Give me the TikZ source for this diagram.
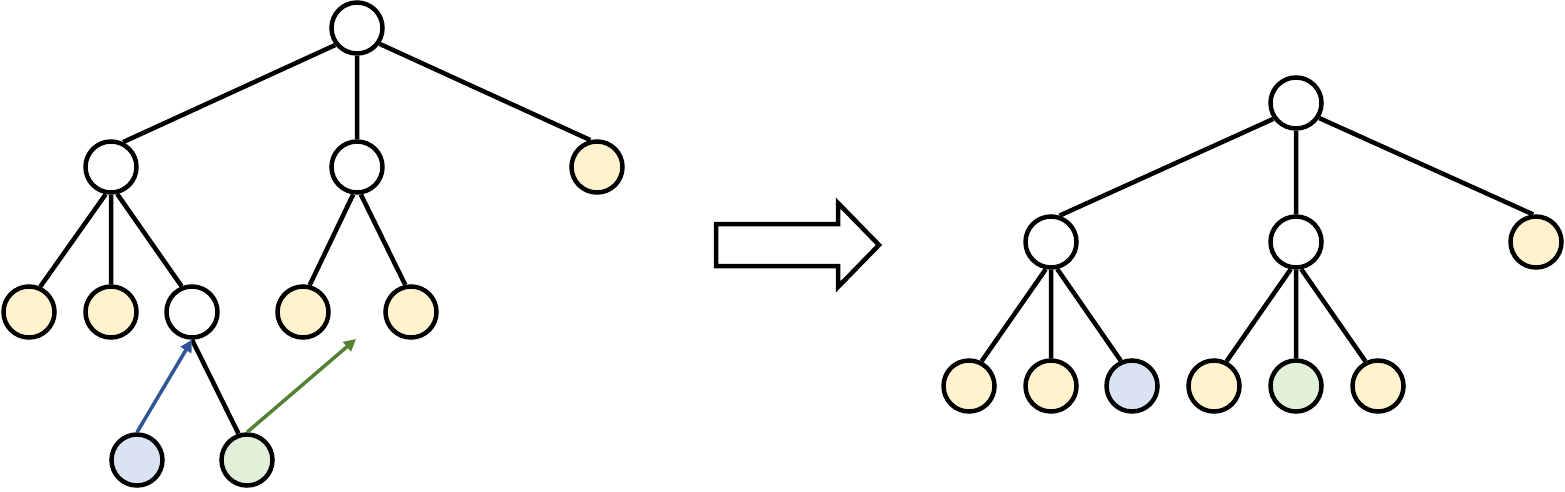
\documentclass[tikz,border=0pt]{standalone}
\usetikzlibrary{arrows.meta}

\definecolor{leafyellow}{HTML}{FFF2CC}
\definecolor{leafblue}{HTML}{DAE3F3}
\definecolor{leafgreen}{HTML}{E2F0D9}
\definecolor{moveblue}{HTML}{2F5597}
\definecolor{movegreen}{HTML}{548235}

\tikzset{
	vertex/.style={circle, draw, line width=4.5pt, fill=white, minimum size=51pt, inner sep=0pt},
	leaf/.style={vertex, fill=leafyellow},
	edge/.style={line width=4.5pt},
	move/.style={line width=3.5pt, -{Triangle[length=12pt,width=12pt]}}
}

\begin{document}
\begin{tikzpicture}[x=1pt, y=-1pt]

	\useasboundingbox (0,0) rectangle (1565,491);

	% tree before
	\node [vertex] (r) at (357,28) {};
	\node [vertex] (a) at (111,167) {};
	\node [vertex] (b) at (357,167) {};
	\node [leaf] (c) at (597,167) {};
	\node [leaf] (a1) at (29,312) {};
	\node [leaf] (a2) at (111,312) {};
	\node [vertex] (a3) at (192,312) {};
	\node [leaf] (b1) at (303,312) {};
	\node [leaf] (b2) at (411,312) {};
	\node [vertex, fill=leafblue] (x) at (137,460) {};
	\node [vertex, fill=leafgreen] (y) at (247,460) {};
	\coordinate (slot) at (356,339);

	\draw [edge] (r.218) -- (a.64) (r.south) -- (b.north) (r.325) -- (c.104);
	\draw [edge] (a.259) -- (a1.66) (a.south) -- (a2.north) (a.283) -- (a3.112);
	\draw [edge] (b.262) -- (b1.76) (b.278) -- (b2.102);
	\draw [edge] (a3.south) -- (y.108);

	% moves
	\draw [move, moveblue] (x.north) -- (a3.south);
	\draw [move, movegreen] (y.north) -- (slot);

	% big arrow
	\draw [line width=4.5pt, line join=miter] (716,224) -- (838,224) -- (838,203) -- (879,245) -- (838,287) -- (838,266) -- (716,266) -- cycle;

	% tree after
	\node [vertex] (R) at (1296,103) {};
	\node [vertex] (A) at (1051,242) {};
	\node [vertex] (B) at (1296,242) {};
	\node [leaf] (C) at (1536,242) {};
	\node [leaf] (A1) at (969,386) {};
	\node [leaf] (A2) at (1051,386) {};
	\node [vertex, fill=leafblue] (A3) at (1132,386) {};
	\node [leaf] (B1) at (1214,386) {};
	\node [vertex, fill=leafgreen] (B2) at (1296,386) {};
	\node [leaf] (B3) at (1378,386) {};

	\draw [edge] (R.215) -- (A.72) (R.south) -- (B.north) (R.327) -- (C.96);
	\draw [edge] (A.259) -- (A1.63) (A.south) -- (A2.north) (A.283) -- (A3.114);
	\draw [edge] (B.259) -- (B1.63) (B.south) -- (B2.north) (B.281) -- (B3.117);

\end{tikzpicture}
\end{document}
